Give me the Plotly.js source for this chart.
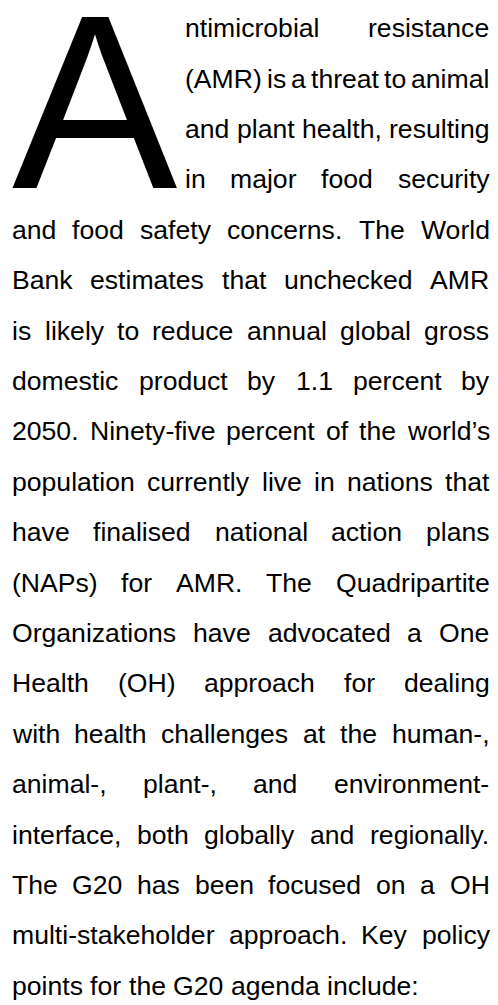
<!DOCTYPE html>
<html>
<head>
<meta charset="utf-8">
<script src="https://cdn.plot.ly/plotly-3.0.1.min.js"></script>
<style>html,body{margin:0;padding:0;background:#fff;overflow:hidden}</style>
</head>
<body>
<div id="chart" style="width:498px;height:1005px"></div>
<script>
// ---- content ----
const dropCap = "A";
const dropCapLines = [
  "ntimicrobial resistance",
  "(AMR) is a threat to animal",
  "and plant health, resulting",
  "in major food security"
];
const bodyLines = [
  "and food safety concerns. The World",
  "Bank estimates that unchecked AMR",
  "is likely to reduce annual global gross",
  "domestic product by 1.1 percent by",
  "2050. Ninety-five percent of the world’s",
  "population currently live in nations that",
  "have finalised national action plans",
  "(NAPs) for AMR. The Quadripartite",
  "Organizations have advocated a One",
  "Health (OH) approach for dealing",
  "with health challenges at the human-,",
  "animal-, plant-, and environment-",
  "interface, both globally and regionally.",
  "The G20 has been focused on a OH",
  "multi-stakeholder approach. Key policy",
  "points for the G20 agenda include:"
];

// ---- layout parameters ----
const W = 498, H = 1005;
const FAMILY = "Liberation Sans, Arial, Helvetica, sans-serif";
const FS = 26.6, LINE_H = 50.4, FIRST_BASELINE = 37.4;
const LEFT = 12, RIGHT = 489.5, DROP_INDENT = 185;
const CAP_FS = 248;
const COLOR = "#000000";
const MID = 0.3465; // (ascent - descent)/2 in em for Liberation Sans

const ctx = document.createElement("canvas").getContext("2d");
function measure(t, size) {
  ctx.font = size + "px 'Liberation Sans', Arial, sans-serif";
  return ctx.measureText(t).width;
}

const annotations = [];
function addWord(word, x, baseline) {
  annotations.push({
    x: x, y: baseline - MID * FS, xref: "x", yref: "y",
    text: word, showarrow: false, xanchor: "left", yanchor: "middle",
    borderpad: 0, borderwidth: 0,
    font: {family: FAMILY, size: FS, color: COLOR}
  });
}
function layoutLine(line, x0, x1, baseline, justify) {
  const words = line.split(" ");
  const widths = words.map(w => measure(w, FS));
  const total = widths.reduce((a, b) => a + b, 0);
  const gap = (justify && words.length > 1)
    ? (x1 - x0 - total) / (words.length - 1)
    : measure(" ", FS);
  let x = x0;
  words.forEach((w, i) => { addWord(w, x, baseline); x += widths[i] + gap; });
}

const allLines = dropCapLines.concat(bodyLines);
allLines.forEach((line, i) => {
  const baseline = FIRST_BASELINE + LINE_H * i;
  const x0 = i < dropCapLines.length ? DROP_INDENT : LEFT;
  const justify = i < allLines.length - 1;
  layoutLine(line, x0, RIGHT, baseline, justify);
});

// drop cap (box clipped to the glyph so it does not cover neighbouring lines)
const capBaseline = FIRST_BASELINE + LINE_H * (dropCapLines.length - 1);
annotations.push({
  x: LEFT, y: capBaseline - MID * CAP_FS, xref: "x", yref: "y",
  text: dropCap, showarrow: false, xanchor: "left", yanchor: "middle",
  valign: "middle", height: CAP_FS * 0.72,
  borderpad: 0, borderwidth: 0,
  font: {family: FAMILY, size: CAP_FS, color: COLOR}
});

const layout = {
  width: W, height: H,
  margin: {l: 0, r: 0, t: 0, b: 0, pad: 0},
  paper_bgcolor: "#ffffff", plot_bgcolor: "#ffffff",
  xaxis: {range: [0, W], visible: false, fixedrange: true},
  yaxis: {range: [H, 0], visible: false, fixedrange: true},
  showlegend: false,
  annotations: annotations
};
Plotly.newPlot("chart", [], layout, {staticPlot: true, displayModeBar: false});
</script>
</body>
</html>
